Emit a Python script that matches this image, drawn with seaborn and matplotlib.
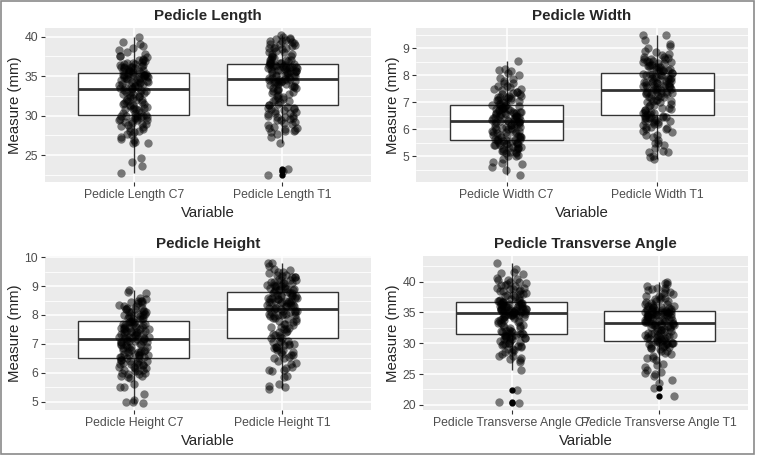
import numpy as np
import pandas as pd
import matplotlib.pyplot as plt
import seaborn as sns
from matplotlib.ticker import MultipleLocator

# Values (mm / degrees), one list per box
length_c7 = [22.7, 23.7, 24.2, 24.7, 26.5, 26.7, 26.9, 27.1, 27.7, 27.9, 28.1, 28.3, 28.5, 28.7, 28.8,
             29.0, 29.2, 29.3, 29.5, 29.6, 29.7, 29.8, 29.9, 30.0, 30.1,
             30.3, 30.4, 30.5, 30.7, 30.8, 30.9, 31.0, 31.2, 31.3, 31.4, 31.5, 31.7, 31.8, 32.0, 32.1,
             32.2, 32.4, 32.5, 32.6, 32.8, 32.9, 33.0, 33.1, 33.2, 33.3,
             33.4, 33.5, 33.6, 33.7, 33.8, 33.9, 34.0, 34.1, 34.2, 34.3, 34.4, 34.5, 34.5, 34.6, 34.7,
             34.8, 34.9, 35.0, 35.0, 35.1, 35.2, 35.2, 35.3, 35.3, 35.4,
             35.5, 35.6, 35.7, 35.8, 35.9, 36.0, 36.1, 36.2, 36.3, 36.4, 36.5, 36.6, 36.8, 36.9, 37.0,
             37.2, 37.4, 37.6, 37.8, 38.0, 38.5, 38.8, 39.0, 39.3, 39.9,
             27.3, 28.0, 28.6, 29.1, 29.4, 29.8, 30.0, 28.9, 29.5, 27.5, 26.6, 29.9,
             29.7, 29.9, 31.0, 31.1, 31.5, 31.9, 32.3, 32.7, 33.0, 30.9, 31.6, 32.0, 32.9,
             33.5, 33.8, 34.0, 34.3, 34.6, 34.9, 35.1, 35.3, 33.6, 34.2, 34.8, 35.0, 35.2,
             35.6, 35.8, 36.0, 36.2, 36.4, 36.7, 37.1, 37.5, 38.3, 35.7, 36.1, 36.5]
length_t1 = [22.5, 23.0, 23.2, 26.6, 27.3, 27.7, 28.0, 28.2, 28.4, 28.6, 28.8, 29.0, 29.2, 29.4, 29.6,
             29.7, 29.8, 30.0, 30.2, 30.4, 30.6, 30.8, 30.9, 31.0, 31.1,
             31.3, 31.5, 31.7, 31.9, 32.1, 32.3, 32.5, 32.7, 32.9, 33.1, 33.2, 33.4, 33.5, 33.6, 33.8,
             33.9, 34.0, 34.1, 34.2, 34.3, 34.4, 34.4, 34.5, 34.5, 34.6,
             34.7, 34.8, 34.9, 35.0, 35.1, 35.2, 35.3, 35.4, 35.5, 35.6, 35.6, 35.7, 35.8, 35.9, 36.0,
             36.0, 36.1, 36.2, 36.2, 36.3, 36.3, 36.4, 36.4, 36.5, 36.5,
             36.6, 36.7, 36.8, 36.9, 37.0, 37.1, 37.3, 37.5, 37.6, 37.8, 38.0, 38.2, 38.4, 38.5, 38.7,
             38.8, 39.0, 39.2, 39.3, 39.5, 39.6, 39.7, 39.8, 40.0, 40.2,
             28.1, 28.5, 29.1, 29.5, 30.0, 30.3, 30.7, 31.0, 28.3, 29.8, 30.5, 27.9,
             31.4, 31.8, 32.2, 32.6, 33.0, 33.3, 33.7, 34.0, 34.3, 34.5, 32.0, 33.5, 34.2,
             34.8, 35.0, 35.2, 35.4, 35.7, 35.9, 36.1, 36.3, 36.4, 35.5, 35.8, 36.0, 36.2,
             36.7, 37.0, 37.4, 37.8, 38.1, 38.5, 38.9, 39.1, 39.4, 37.2, 38.6, 39.7]

width_c7 = [4.3, 4.5, 4.6, 4.7, 4.8, 4.9, 5.0, 5.05, 5.1, 5.15, 5.2, 5.25, 5.3, 5.3, 5.35, 5.4, 5.4,
            5.45, 5.45, 5.5, 5.5, 5.55, 5.55, 5.6, 5.6,
            5.6, 5.65, 5.65, 5.7, 5.7, 5.75, 5.8, 5.8, 5.85, 5.9, 5.9, 5.95, 6.0, 6.0, 6.05, 6.1, 6.1,
            6.15, 6.15, 6.2, 6.2, 6.25, 6.25, 6.3, 6.3,
            6.3, 6.35, 6.35, 6.4, 6.4, 6.45, 6.45, 6.5, 6.5, 6.55, 6.55, 6.6, 6.6, 6.65, 6.65, 6.7, 6.7,
            6.75, 6.75, 6.8, 6.8, 6.85, 6.85, 6.9, 6.9,
            6.95, 7.0, 7.05, 7.1, 7.1, 7.15, 7.2, 7.2, 7.25, 7.3, 7.35, 7.4, 7.45, 7.5, 7.55, 7.6, 7.7,
            7.8, 7.85, 7.9, 8.0, 8.1, 8.2, 8.25, 8.55,
            5.0, 5.1, 5.2, 5.25, 5.35, 5.4, 5.45, 5.5, 5.55, 4.75, 5.3, 5.15,
            5.65, 5.7, 5.8, 5.85, 5.9, 6.0, 6.05, 6.1, 6.15, 6.2, 6.25, 5.75, 5.95,
            6.35, 6.4, 6.45, 6.5, 6.55, 6.6, 6.65, 6.7, 6.75, 6.8, 6.85, 6.5, 6.6,
            6.95, 7.0, 7.1, 7.15, 7.2, 7.25, 7.3, 7.4, 7.5, 7.6, 7.7, 8.15]
width_t1 = [4.9, 4.95, 5.0, 5.15, 5.15, 5.2, 5.3, 5.4, 5.5, 5.6, 5.7, 5.8, 5.9, 6.0, 6.05, 6.1, 6.2,
            6.25, 6.3, 6.35, 6.4, 6.4, 6.45, 6.45, 6.5,
            6.5, 6.55, 6.6, 6.65, 6.7, 6.75, 6.8, 6.85, 6.9, 6.95, 7.0, 7.05, 7.1, 7.15, 7.2, 7.2, 7.25,
            7.3, 7.3, 7.35, 7.35, 7.4, 7.4, 7.45, 7.45,
            7.5, 7.5, 7.55, 7.55, 7.6, 7.6, 7.65, 7.65, 7.7, 7.7, 7.75, 7.75, 7.8, 7.8, 7.85, 7.85, 7.9,
            7.9, 7.95, 8.0, 8.0, 8.05, 8.05, 8.1, 8.1,
            8.15, 8.2, 8.2, 8.25, 8.3, 8.3, 8.35, 8.4, 8.45, 8.5, 8.5, 8.55, 8.6, 8.6, 8.65, 8.7, 8.75,
            8.8, 8.9, 9.0, 9.1, 9.15, 9.3, 9.5, 9.5,
            5.8, 6.0, 6.1, 6.2, 6.3, 6.35, 6.4, 6.45, 5.95, 6.15, 5.5, 6.25,
            6.55, 6.6, 6.7, 6.8, 6.9, 7.0, 7.1, 7.2, 7.3, 7.35, 7.4, 6.65, 7.05,
            7.5, 7.55, 7.6, 7.65, 7.7, 7.75, 7.8, 7.85, 7.9, 7.95, 8.0, 8.05, 7.6,
            8.15, 8.2, 8.25, 8.3, 8.35, 8.4, 8.45, 8.5, 8.55, 8.6, 8.7, 8.85]

height_c7 = [4.95, 5.0, 5.0, 5.05, 5.25, 5.5, 5.5, 5.6, 5.8, 5.85, 5.9, 5.95, 6.0, 6.05, 6.1, 6.15,
             6.2, 6.25, 6.3, 6.3, 6.35, 6.4, 6.4, 6.45, 6.5,
             6.5, 6.55, 6.55, 6.6, 6.6, 6.65, 6.7, 6.7, 6.75, 6.8, 6.8, 6.85, 6.9, 6.9, 6.95, 7.0, 7.0,
             7.05, 7.05, 7.1, 7.1, 7.1, 7.15, 7.15, 7.15,
             7.2, 7.2, 7.25, 7.25, 7.3, 7.3, 7.35, 7.35, 7.4, 7.4, 7.45, 7.45, 7.5, 7.5, 7.55, 7.55, 7.6,
             7.6, 7.65, 7.65, 7.7, 7.7, 7.75, 7.75, 7.8,
             7.8, 7.85, 7.85, 7.9, 7.95, 8.0, 8.0, 8.05, 8.1, 8.1, 8.15, 8.2, 8.2, 8.25, 8.3, 8.35, 8.4,
             8.45, 8.5, 8.5, 8.55, 8.6, 8.75, 8.8, 8.85,
             5.9, 6.0, 6.1, 6.15, 6.2, 6.25, 6.3, 6.35, 6.4, 6.45, 5.95, 6.05,
             6.55, 6.6, 6.65, 6.7, 6.75, 6.8, 6.85, 6.9, 6.95, 7.0, 7.05, 7.1, 6.6,
             7.2, 7.25, 7.3, 7.35, 7.4, 7.45, 7.5, 7.55, 7.6, 7.65, 7.7, 7.75, 7.4,
             7.85, 7.9, 7.95, 8.0, 8.05, 8.1, 8.15, 8.2, 8.25, 8.3, 8.4, 8.5]
height_t1 = [5.45, 5.5, 5.55, 5.6, 5.85, 5.9, 6.05, 6.1, 6.1, 6.2, 6.3, 6.4, 6.5, 6.55, 6.6, 6.65,
             6.7, 6.8, 6.85, 6.9, 6.95, 7.0, 7.05, 7.1, 7.2,
             7.2, 7.25, 7.3, 7.35, 7.4, 7.45, 7.5, 7.55, 7.6, 7.65, 7.7, 7.75, 7.8, 7.85, 7.9, 7.95, 8.0,
             8.0, 8.05, 8.05, 8.1, 8.1, 8.15, 8.15, 8.2,
             8.2, 8.25, 8.25, 8.3, 8.3, 8.35, 8.35, 8.4, 8.4, 8.45, 8.45, 8.5, 8.5, 8.55, 8.55, 8.6, 8.6,
             8.65, 8.65, 8.7, 8.7, 8.75, 8.75, 8.8, 8.8,
             8.85, 8.85, 8.9, 8.9, 8.95, 9.0, 9.0, 9.05, 9.1, 9.1, 9.15, 9.2, 9.2, 9.25, 9.3, 9.3, 9.35,
             9.4, 9.45, 9.5, 9.55, 9.6, 9.7, 9.8, 9.8,
             6.5, 6.6, 6.7, 6.8, 6.85, 6.9, 6.95, 7.0, 7.05, 7.1, 6.15, 6.35,
             7.3, 7.4, 7.5, 7.6, 7.7, 7.8, 7.9, 8.0, 8.1, 8.15, 7.85, 8.05, 7.95,
             8.25, 8.3, 8.35, 8.4, 8.45, 8.5, 8.55, 8.6, 8.65, 8.7, 8.75, 8.5, 8.6,
             8.85, 8.9, 8.95, 9.0, 9.05, 9.1, 9.15, 9.2, 9.3, 9.4, 9.5, 9.0]

angle_c7 = [20.3, 20.4, 22.4, 25.7, 27.0, 27.4, 27.6, 28.0, 28.3, 28.6, 28.9, 29.1, 29.4, 29.6, 29.8,
            30.0, 30.2, 30.4, 30.6, 30.8, 30.9, 31.0, 31.1, 31.2, 31.3,
            31.4, 31.5, 31.6, 31.8, 32.0, 32.2, 32.4, 32.6, 32.8, 33.0, 33.2, 33.4, 33.6, 33.8, 34.0,
            34.1, 34.2, 34.3, 34.4, 34.5, 34.5, 34.6, 34.7, 34.7, 34.8,
            34.9, 35.0, 35.0, 35.1, 35.2, 35.3, 35.3, 35.4, 35.5, 35.5, 35.6, 35.7, 35.8, 35.9, 36.0,
            36.1, 36.2, 36.3, 36.3, 36.4, 36.5, 36.5, 36.6, 36.6, 36.7,
            36.8, 36.9, 37.0, 37.2, 37.4, 37.6, 37.8, 38.0, 38.2, 38.4, 38.6, 38.8, 39.0, 39.2, 39.4,
            39.6, 39.8, 40.0, 40.2, 40.4, 40.5, 41.2, 41.6, 42.0, 43.0,
            28.0, 28.5, 29.0, 29.5, 29.8, 30.0, 30.3, 30.6, 30.9, 31.1, 27.3, 29.7,
            31.5, 31.8, 32.0, 32.4, 32.9, 33.3, 33.8, 34.2, 34.5, 34.7, 31.6, 31.9, 33.6,
            35.0, 35.1, 35.3, 35.4, 35.5, 35.6, 35.8, 36.0, 36.2, 36.4, 36.6, 35.2, 35.5,
            37.0, 37.5, 38.0, 38.4, 38.8, 39.0, 39.5, 39.9, 40.3, 37.8, 38.5, 41.3]
angle_t1 = [21.5, 22.7, 23.6, 24.0, 24.6, 25.0, 25.3, 25.6, 26.1, 26.7, 27.2, 27.6, 28.0, 28.4, 28.7,
            29.0, 29.2, 29.4, 29.6, 29.8, 29.9, 30.0, 30.1, 30.2, 30.3,
            30.4, 30.5, 30.6, 30.8, 30.9, 31.0, 31.2, 31.3, 31.4, 31.6, 31.7, 31.9, 32.0, 32.2, 32.3,
            32.5, 32.6, 32.7, 32.8, 32.9, 33.0, 33.0, 33.1, 33.1, 33.2,
            33.3, 33.4, 33.5, 33.6, 33.7, 33.8, 33.9, 34.0, 34.1, 34.2, 34.3, 34.4, 34.5, 34.5, 34.6,
            34.7, 34.8, 34.8, 34.9, 35.0, 35.0, 35.1, 35.1, 35.2, 35.2,
            35.3, 35.4, 35.5, 35.6, 35.7, 35.8, 35.9, 36.0, 36.2, 36.4, 36.5, 36.7, 36.9, 37.1, 37.3,
            37.5, 37.7, 38.0, 38.3, 38.6, 38.8, 38.9, 39.2, 39.6, 40.0,
            27.6, 28.2, 28.8, 29.2, 29.4, 29.6, 29.8, 30.0, 30.1, 30.2, 26.4, 25.2,
            30.5, 30.7, 31.0, 31.2, 31.4, 31.6, 31.8, 32.1, 32.4, 32.8, 33.1, 31.5, 30.9,
            33.4, 33.6, 33.8, 34.0, 34.2, 34.4, 34.6, 34.8, 35.0, 35.1, 33.9, 34.7, 35.2,
            35.4, 35.6, 35.8, 36.1, 36.4, 36.8, 37.2, 37.6, 38.1, 38.7, 39.0, 39.7]

titles = ["Pedicle Length", "Pedicle Width", "Pedicle Height", "Pedicle Transverse Angle"]
groups = [["Pedicle Length C7", "Pedicle Length T1"],
          ["Pedicle Width C7", "Pedicle Width T1"],
          ["Pedicle Height C7", "Pedicle Height T1"],
          ["Pedicle Transverse Angle C7", "Pedicle Transverse Angle T1"]]
series = [[length_c7, length_t1], [width_c7, width_t1],
          [height_c7, height_t1], [angle_c7, angle_t1]]
steps = [5, 1, 1, 5]

# panel boxes in pixels (left, top, right, bottom)
W, H = 757, 455
rects = [(45, 28, 371, 182), (416, 28, 748, 182),
         (45, 256, 371, 410), (423, 256, 748, 410)]

sns.set_theme(style="darkgrid", rc={"axes.facecolor": "#EBEBEB",
                                    "grid.color": "white"})
plt.rcParams["font.family"] = ["Liberation Sans", "DejaVu Sans"]

np.random.seed(7)  # jitter only
fig = plt.figure(figsize=(7.57, 4.55), dpi=100)

for title, labels, vals, step, (x0, y0, x1, y1) in zip(titles, groups, series, steps, rects):
    ax = fig.add_axes([x0 / W, 1 - y1 / H, (x1 - x0) / W, (y1 - y0) / H])
    df = pd.DataFrame({
        "Variable": np.repeat(labels, [len(v) for v in vals]),
        "Measure": np.concatenate(vals),
    })
    sns.boxplot(data=df, x="Variable", y="Measure", width=0.75, color="white",
                linecolor="#333333", linewidth=1.0, fliersize=3.5,
                flierprops=dict(marker="o", markerfacecolor="black",
                                markeredgecolor="black"),
                medianprops=dict(linewidth=2.0),
                capprops=dict(linewidth=0), ax=ax)
    sns.stripplot(data=df, x="Variable", y="Measure", jitter=0.1, color="black",
                  alpha=0.5, size=6, linewidth=0, ax=ax, zorder=3)

    ax.set_xlim(-0.6, 1.6)
    ax.yaxis.set_major_locator(MultipleLocator(step))
    ax.yaxis.set_minor_locator(MultipleLocator(step / 2))
    ax.grid(True, which="major", axis="both", color="white", linewidth=1.1)
    ax.grid(True, which="minor", axis="y", color="white", linewidth=0.6)
    ax.set_axisbelow(True)
    for s in ax.spines.values():
        s.set_visible(False)
    ax.tick_params(which="major", bottom=True, left=True, length=2.75, width=0.8,
                   color="#333333", labelcolor="#4D4D4D", labelsize=8.8, pad=2.2)
    ax.tick_params(which="minor", bottom=False, left=False)
    ax.set_title(title, fontsize=10.9, fontweight="bold", pad=5.5)
    ax.set_xlabel("Variable", fontsize=10.8, labelpad=3.5)
    ax.set_ylabel("Measure (mm)", fontsize=10.8, labelpad=1.5)

fig.add_artist(plt.Rectangle((0.001, 0.003), 0.995, 0.995, transform=fig.transFigure,
                             fill=False, edgecolor="#8a8a8a", linewidth=1.2))

fig.savefig("out.png", dpi=100)
